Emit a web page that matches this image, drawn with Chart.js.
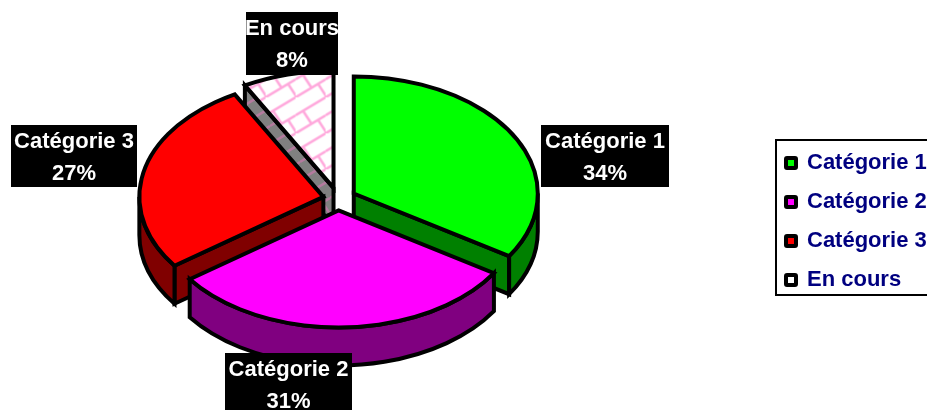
<!DOCTYPE html>
<html>
<head>
<meta charset="utf-8">
<title>Répartition par catégorie</title>
<script src="https://cdn.jsdelivr.net/npm/chart.js@4"></script>
<style>
  body { margin: 0; background: #fff; }
  canvas { display: block; }
</style>
</head>
<body>
<canvas id="pieChart" width="927" height="410"></canvas>
<script>
const categories = ["Catégorie 1", "Catégorie 2", "Catégorie 3", "En cours"];
const shares = [34, 31, 27, 8];

const topColors = ["#00ff00", "#ff00ff", "#ff0000", "#ffffff"];
const wallColors = ["#008000", "#800080", "#800000", "#808080"];

const FONT = "Liberation Sans, Arial, sans-serif";
const TILT = 0.636;       // height / width of the ellipse
const DEPTH = 38;         // thickness of the pie
const LINE = 4;

// brick hatch for the "En cours" slice
function brickPattern(ctx, bg, line) {
  const w = 30, h = 18;
  const tile = document.createElement("canvas");
  tile.width = w;
  tile.height = h * 2;
  const t = tile.getContext("2d");
  t.fillStyle = bg;
  t.fillRect(0, 0, w, h * 2);
  t.strokeStyle = line;
  t.lineWidth = 2.5;
  t.beginPath();
  for (let n = 0; n < 3; n++) {
    t.moveTo(0, h * (n + 1));
    t.lineTo(w, h * n);
  }
  // short cross strokes, staggered from row to row
  [[7.5, 13.5], [22.5, 22.5]].forEach(([x, y]) => {
    for (let dy = -h * 2; dy <= h * 2; dy += h * 2) {
      t.moveTo(x, y + dy);
      t.lineTo(x + 8.5, y + dy + 13);
    }
  });
  t.stroke();
  return ctx.createPattern(tile, "repeat");
}

const canvas = document.getElementById("pieChart");
const ctx = canvas.getContext("2d");

const hatchTop = brickPattern(ctx, "#ffffff", "#ffa8dc");
hatchTop.setTransform(new DOMMatrix().scale(1, 1 / TILT)); // undo the tilt for the fill
const hatchWall = brickPattern(ctx, "#808080", "#b47a9e");

// Draws the pie as a tilted, exploded 3D pie from the arc elements
const tiltedPie = {
  id: "tiltedPie",
  beforeDatasetDraw(chart, args, opts) {
    const c = chart.ctx;
    const arcs = chart.getDatasetMeta(0).data;

    opts.order.forEach((i) => {
      const arc = arcs[i];
      const { x, y, startAngle: a0, endAngle: a1, outerRadius: r } = arc;
      const mid = (a0 + a1) / 2;
      const ax = x + opts.explode[i] * Math.cos(mid);
      const ay = y + opts.explode[i] * Math.sin(mid) * TILT;

      c.save();
      c.lineWidth = LINE;
      c.lineJoin = "miter";
      c.strokeStyle = "#000";
      c.fillStyle = i === 3 ? hatchWall : wallColors[i];

      // radial walls, only the ones turned towards the viewer
      const wall = (a) => {
        const px = ax + r * Math.cos(a);
        const py = ay + r * TILT * Math.sin(a);
        c.beginPath();
        c.moveTo(ax, ay);
        c.lineTo(px, py);
        c.lineTo(px, py + DEPTH);
        c.lineTo(ax, ay + DEPTH);
        c.closePath();
        c.fill();
        c.stroke();
      };
      if (-Math.cos(a0) > 0.001) wall(a0);
      if (Math.cos(a1) > 0.001) wall(a1);

      // outer wall, front half of the rim only
      const from = Math.max(a0, 0);
      const to = Math.min(a1, Math.PI);
      if (from < to) {
        c.beginPath();
        c.ellipse(ax, ay, r, r * TILT, 0, from, to);
        c.ellipse(ax, ay + DEPTH, r, r * TILT, 0, to, from, true);
        c.closePath();
        c.fill();
        c.stroke();
      }

      // top face
      c.save();
      c.translate(ax, ay);
      c.scale(1, TILT);
      c.translate(-x, -y);
      arc.draw(c);
      c.restore();

      c.beginPath();
      c.moveTo(ax, ay);
      c.ellipse(ax, ay, r, r * TILT, 0, a0, a1);
      c.closePath();
      c.stroke();
      c.restore();
    });
    return false;
  },
  afterDatasetsDraw(chart, args, opts) {
    const c = chart.ctx;
    const total = shares.reduce((s, v) => s + v, 0);

    // data labels: white on black, two lines
    c.save();
    opts.labelBoxes.forEach(([left, top, right, bottom], i) => {
      c.fillStyle = "#000";
      c.fillRect(left, top, right - left, bottom - top);
      c.fillStyle = "#fff";
      c.font = "bold 22px " + FONT;
      c.textAlign = "center";
      c.textBaseline = "alphabetic";
      const cx = (left + right) / 2;
      c.fillText(categories[i], cx, top + 22.5);
      c.fillText(Math.round(shares[i] / total * 100) + "%", cx, top + 55);
    });
    c.restore();

    // legend frame
    const b = opts.legendFrame;
    c.save();
    c.strokeStyle = "#000";
    c.lineWidth = 2;
    c.strokeRect(b.left, b.top, b.right - b.left, b.bottom - b.top);
    c.restore();
  },
  afterLayout(chart, args, opts) {
    // put the legend where the frame is, it runs off the right side of the page
    const l = chart.legend;
    const b = opts.legendFrame;
    l.left = b.left - 7;
    l.right = b.right;
    l.top = b.top - 5;
    l.bottom = b.bottom + 30;
    l.width = l.right - l.left;
    l.height = l.bottom - l.top;
    l.adjustHitBoxes();
  },
};

new Chart(ctx, {
  type: "pie",
  data: {
    labels: categories,
    datasets: [
      {
        data: shares,
        backgroundColor: [topColors[0], topColors[1], topColors[2], hatchTop],
        borderWidth: 0,
      },
    ],
  },
  options: {
    responsive: false,
    animation: false,
    layout: {
      padding: { left: 154, right: 405, top: 15, bottom: 27 },
    },
    plugins: {
      legend: {
        position: "chartArea",
        align: "start",
        labels: {
          color: "#000080",
          font: { family: FONT, size: 22, weight: "bold" },
          boxWidth: 10,
          boxHeight: 10,
          padding: 17,
          generateLabels() {
            return categories.map((text, i) => ({
              text,
              index: i,
              fillStyle: topColors[i],
              strokeStyle: "#000",
              lineWidth: LINE,
              borderRadius: 1,
              fontColor: "#000080",
            }));
          },
        },
      },
      tooltip: { enabled: false },
      tiltedPie: {
        order: [3, 0, 2, 1],
        explode: [18, 18, 15, 18],
        labelBoxes: [
          [541, 125, 669, 187],
          [225, 353, 352, 415],
          [11, 125, 137, 187],
          [246, 12, 338, 75],
        ],
        legendFrame: { left: 776, top: 140, right: 940, bottom: 295 },
      },
    },
  },
  plugins: [tiltedPie],
});
</script>
</body>
</html>
